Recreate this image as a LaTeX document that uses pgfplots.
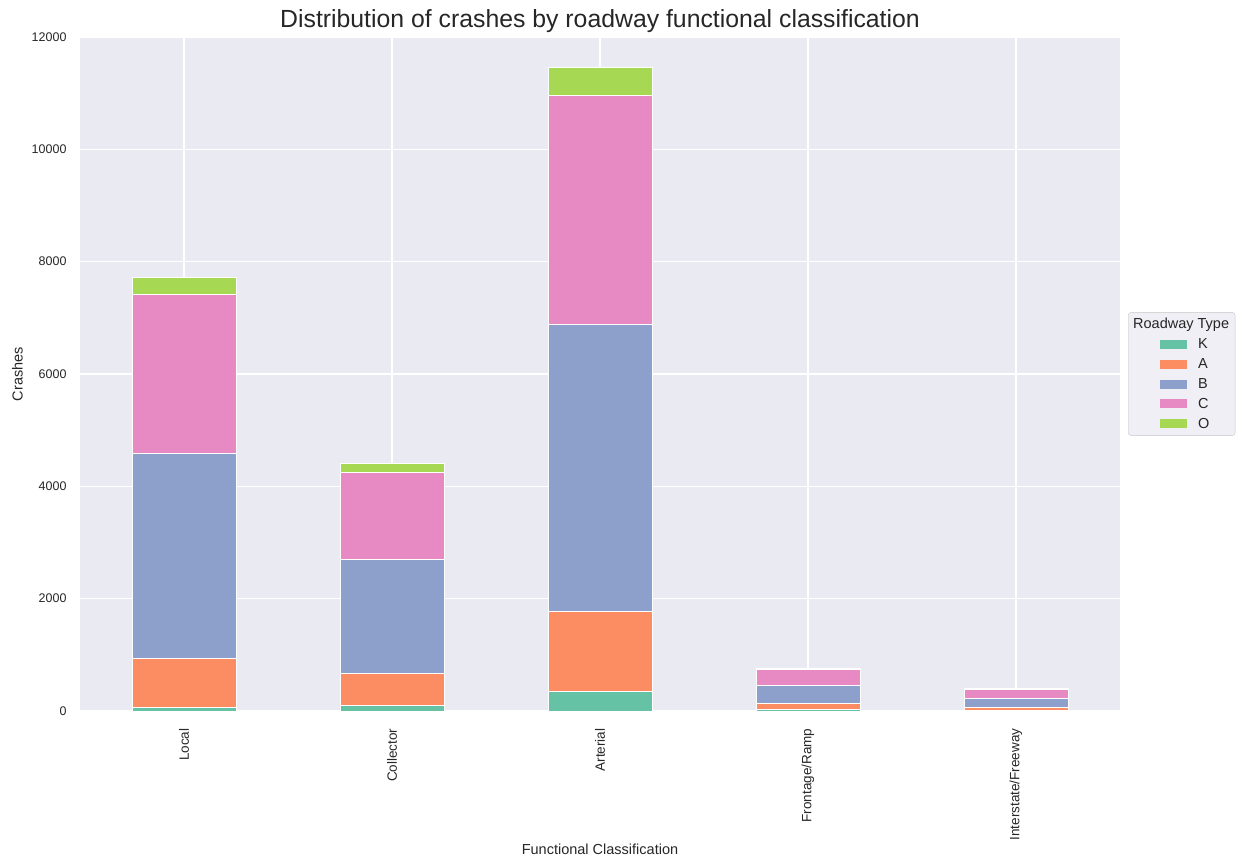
\documentclass[border=0pt]{standalone}
\usepackage{pgfplots}
\pgfplotsset{compat=1.18}
\usetikzlibrary{calc}
\usepackage{fontspec}
\setmainfont{Liberation Sans}
\definecolor{cK}{HTML}{66C2A5}
\definecolor{cA}{HTML}{FC8D62}
\definecolor{cB}{HTML}{8DA0CB}
\definecolor{cC}{HTML}{E78AC3}
\definecolor{cO}{HTML}{A6D854}
\definecolor{bg}{HTML}{EAEAF2}
\definecolor{txt}{HTML}{262626}
\begin{document}
\begin{tikzpicture}
\begin{axis}[
  name=ax,
  scale only axis,
  width=1040pt, height=674pt,
  xmin=-0.5, xmax=4.5,
  ymin=0, ymax=12000,
  ybar stacked,
  bar width=0.5,
  axis background/.style={fill=bg},
  axis line style={draw=none},
  grid=major,
  major grid style={white, line width=1.1pt},
  tick style={draw=none},
  xtick={0,1,2,3,4},
  xticklabels={Local,Collector,Arterial,Frontage/Ramp,Interstate/Freeway},
  x tick label style={rotate=90, anchor=east, xshift=-14pt, font=\fontsize{13.5}{15}\selectfont, text=txt},
  ytick={0,2000,4000,6000,8000,10000,12000},
  y tick label style={xshift=-10pt, font=\fontsize{12.5}{14}\selectfont, text=txt},
  /pgf/number format/assume math mode=true,
  /pgf/number format/1000 sep={},
  scaled y ticks=false,
  xlabel={Functional Classification},
  ylabel={Crashes},
  label style={font=\fontsize{14.5}{17}\selectfont, text=txt},
  xlabel style={yshift=3pt},
  ylabel style={yshift=2pt},
  title={Distribution of crashes by roadway functional classification},
  title style={font=\fontsize{24.8}{28}\selectfont, text=txt, yshift=-5pt},
  legend style={at={(1,0.5)}, anchor=west, xshift=8pt, fill=bg!75!white, draw=black!22, rounded corners=3pt,
    font=\fontsize{14.5}{15}\selectfont, text=txt, row sep=4.3pt, inner xsep=4pt, inner ysep=4pt},
  legend cell align=left,
  area legend,
  legend image code/.code={\path[draw=none, fill=none] (0pt,0pt) -- (64pt,0pt); \fill[#1, draw=none, sharp corners] (28pt,-4.5pt) rectangle (55pt,4.5pt);},
  every axis plot/.append style={draw=white, line width=1pt},
]
\addlegendimage{empty legend}
\addlegendentry{\hspace{-65pt}Roadway Type}
\addplot[fill=cK] coordinates {(0,70) (1,95) (2,340) (3,35) (4,10)};
\addlegendentry{K}
\addplot[fill=cA] coordinates {(0,870) (1,580) (2,1440) (3,105) (4,45)};
\addlegendentry{A}
\addplot[fill=cB] coordinates {(0,3650) (1,2030) (2,5110) (3,310) (4,175)};
\addlegendentry{B}
\addplot[fill=cC] coordinates {(0,2830) (1,1550) (2,4060) (3,290) (4,160)};
\addlegendentry{C}
\addplot[fill=cO] coordinates {(0,300) (1,160) (2,515) (3,10) (4,5)};
\addlegendentry{O}
\end{axis}
\path ($(ax.south west)+(-80pt,-146pt)$) rectangle ($(ax.north east)+(118pt,37pt)$);
\end{tikzpicture}
\end{document}
